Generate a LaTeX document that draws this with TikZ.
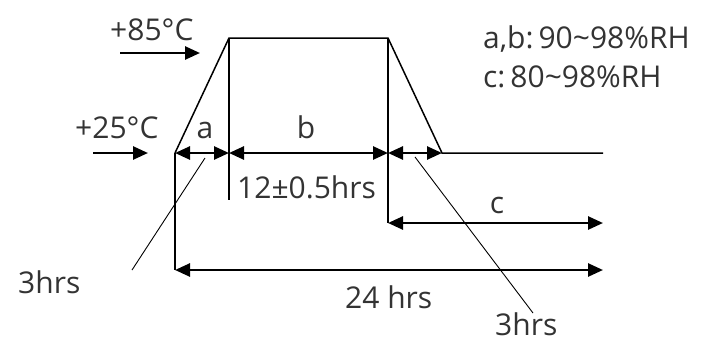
\documentclass[tikz,border=0pt]{standalone}
\usepackage{fontspec}
\setmainfont{Open Sans}
\usetikzlibrary{arrows.meta}
\begin{document}
\begin{tikzpicture}[x=1pt,y=-1pt,
  lbl/.style={font=\fontsize{30}{32}\selectfont, inner sep=0pt, anchor=base west, text=black!80},
  outline/.style={line width=1.5pt},
  dim/.style={line width=2.6pt, {Triangle[length=15pt,width=13pt]}-{Triangle[length=15pt,width=13pt]}},
  pointer/.style={line width=2.6pt, -{Triangle[length=15pt,width=13pt]}},
  leader/.style={line width=0.9pt}]
\useasboundingbox (0,0) rectangle (711,341);
% key points
\coordinate (p0) at (175,153);
\coordinate (p1) at (229,38);
\coordinate (p2) at (388,38);
\coordinate (p3) at (442,153);
\coordinate (e) at (603,153);
\coordinate (v1) at (229,200);
\coordinate (pb) at (229,153);
\coordinate (pc) at (388,153);
\coordinate (c0) at (388,223);
\coordinate (c1) at (603,223);
\coordinate (t0) at (175,270);
\coordinate (t1) at (603,270);
\coordinate (h0) at (120,53);
\coordinate (h1) at (200,53);
\coordinate (l0) at (93,153);
\coordinate (l1) at (148,153);
\coordinate (la0) at (205,158);
\coordinate (la1) at (132,270);
\coordinate (lb0) at (415,157);
\coordinate (lb1) at (533,313);
% profile
\draw[outline] (p0) -- (p1) -- (p2) -- (p3) -- (e);
\draw[outline] (p0) -- (t0);
\draw[outline] (p1) -- (v1);
\draw[outline] (p2) -- (c0);
% dimension arrows
\draw[dim] (p0) -- (pb);
\draw[dim] (pb) -- (pc);
\draw[dim] (pc) -- (p3);
\draw[dim] (c0) -- (c1);
\draw[dim] (t0) -- (t1);
\draw[pointer] (h0) -- (h1);
\draw[pointer] (l0) -- (l1);
% leaders
\draw[leader] (la0) -- (la1);
\draw[leader] (lb0) -- (lb1);
% labels
\node[lbl] (t85) at (110,40) {+85°C};
\node[lbl] (t25) at (75,138) {+25°C};
\node[lbl, anchor=base] (ta) at (205,138) {a};
\node[lbl, anchor=base] (tb) at (306,138) {b};
\node[lbl] (t12) at (237,198) {12±0.5hrs};
\node[lbl, anchor=base] (tc) at (497,213) {c};
\node[lbl] (t24) at (345,308) {24 hrs};
\node[lbl] (t3a) at (18,293) {3hrs};
\node[lbl] (t3b) at (495,335) {3hrs};
\node[lbl] (rh1) at (483,48) {a,b:\,90\textasciitilde98\%RH};
\node[lbl] (rh2) at (483,87) {c:\,80\textasciitilde98\%RH};
\end{tikzpicture}
\end{document}
